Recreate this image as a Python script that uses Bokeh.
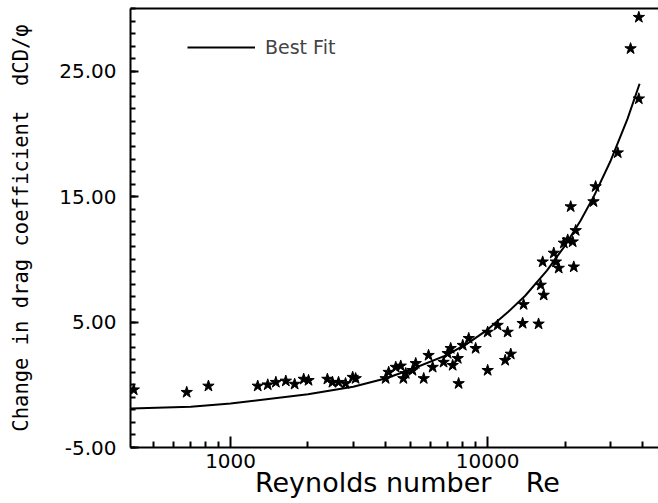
from bokeh.plotting import figure
from bokeh.models import FixedTicker, PrintfTickFormatter, LinearAxis, Legend, LegendItem, Range1d
from bokeh.embed import file_html
from bokeh.resources import INLINE

# measured points: Reynolds number and change in drag coefficient
re_pts = [420, 675, 820, 1275, 1395, 1500, 1640, 1775, 1925, 2010, 2380, 2490, 2630, 2800,
          2985, 3065, 4010, 4120, 4390, 4590, 4700, 4800, 5100, 5250, 5640, 5890, 6110, 6740,
          6990, 7180, 7310, 7650, 7710, 8000, 8440, 8980, 10000, 10000, 10930, 11960, 11700,
          12300, 13680, 13800, 15780, 16520, 16080, 16370, 18080, 18420, 18900, 21630, 19790,
          20480, 21420, 22000, 21040, 25810, 26300, 32070, 38730, 35970, 38730]
dcd_pts = [-0.4, -0.6, -0.1, -0.1, 0.0, 0.2, 0.3, 0.05, 0.45, 0.35, 0.45, 0.2, 0.2, 0.1,
           0.6, 0.5, 0.5, 1.0, 1.4, 1.5, 0.5, 0.9, 1.15, 1.7, 0.5, 2.35, 1.4, 1.8,
           2.5, 2.9, 1.55, 2.1, 0.1, 3.15, 3.7, 2.9, 4.2, 1.15, 4.75, 4.2, 1.95,
           2.45, 4.9, 6.4, 4.85, 7.15, 7.95, 9.8, 10.5, 9.8, 9.3, 9.4, 11.3,
           11.55, 11.4, 12.3, 14.2, 14.6, 15.8, 18.5, 22.8, 26.8, 29.3]

# best fit curve
fit_re = [410, 700, 1000, 2000, 3000, 4000, 5000, 7000, 8500, 10000, 12000, 14000, 17000,
          20000, 23000, 26000, 30000, 35000, 39000]
fit_dcd = [-1.9, -1.75, -1.5, -0.75, -0.15, 0.5, 1.2, 2.4, 3.4, 4.4, 5.8, 7.1, 9.1,
           11.1, 13.1, 15.1, 17.8, 21.2, 24.0]

x_major = [1000, 10000]
x_minor = [400, 500, 600, 700, 800, 900, 2000, 3000, 4000, 5000, 6000, 7000, 8000, 9000,
           20000, 30000, 40000]
y_major = [-5, 5, 15, 25]
y_minor = list(range(-5, 31))

NB = "\u00a0"

p = figure(width=658, height=503, x_axis_type="log",
           x_range=Range1d(408, 46200), y_range=Range1d(-5, 30),
           output_backend="svg", toolbar_location=None,
           min_border_left=130, min_border_right=0, min_border_top=8, min_border_bottom=56)
p.grid.visible = False
p.outline_line_color = None
p.background_fill_color = "white"

fit = p.line(fit_re, fit_dcd, line_color="black", line_width=2)
p.scatter(re_pts, dcd_pts, marker="star", size=12, fill_color="black", line_color="black")

for ax in (p.xaxis[0], p.yaxis[0]):
    ax.axis_line_width = 2
    ax.major_tick_line_width = 2
    ax.minor_tick_line_width = 2
    ax.major_tick_out = 0
    ax.minor_tick_out = 0
    ax.major_label_text_font = "DejaVu Sans"
    ax.major_label_text_font_size = "20px"
    ax.major_label_text_color = "black"
    ax.axis_label_text_font_style = "normal"
    ax.axis_label_text_color = "black"

xa = p.xaxis[0]
xa.ticker = FixedTicker(ticks=x_major, minor_ticks=x_minor)
xa.formatter = PrintfTickFormatter(format="%d")
xa.major_tick_in = 11
xa.minor_tick_in = 6
xa.major_label_standoff = 6
xa.axis_label = NB * 3 + "Reynolds number" + NB * 4 + "Re"
xa.axis_label_text_font = "DejaVu Sans"
xa.axis_label_text_font_size = "27px"
xa.axis_label_standoff = -4

ya = p.yaxis[0]
ya.ticker = FixedTicker(ticks=y_major, minor_ticks=y_minor)
ya.formatter = PrintfTickFormatter(format="%.2f")
ya.major_tick_in = 8
ya.minor_tick_in = 5
ya.major_label_standoff = 14
ya.axis_label = "Change in drag coefficient" + NB * 2 + "dCD/φ"
ya.axis_label_text_font = "DejaVu Sans Mono"
ya.axis_label_text_font_size = "20.5px"
ya.axis_label_standoff = 23

top = LinearAxis(ticker=FixedTicker(ticks=[]), major_label_text_font_size="0px",
                 axis_line_width=2, major_tick_in=0, major_tick_out=0,
                 minor_tick_in=0, minor_tick_out=0, major_label_standoff=0)
p.add_layout(top, "above")

legend = Legend(items=[LegendItem(label="Best Fit", renderers=[fit])],
                location=(57, 389), padding=0, margin=0, glyph_width=68, glyph_height=20,
                label_height=20, label_standoff=10, border_line_color=None,
                background_fill_alpha=0, label_text_font="DejaVu Sans",
                label_text_font_size="19px")
p.add_layout(legend, "center")

open("out.html", "w").write(file_html(p, INLINE))
